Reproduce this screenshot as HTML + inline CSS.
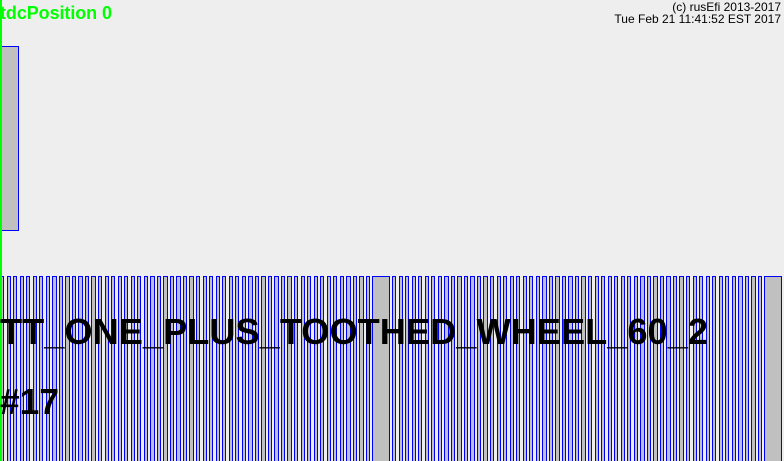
<!DOCTYPE html>
<html><head><meta charset="utf-8"><style>
html,body{margin:0;padding:0;background:#eeeeee;}
svg{display:block;}
text{font-family:"Liberation Sans",sans-serif;}
</style></head><body>
<svg id="chart" width="784" height="461" viewBox="0 0 784 461">
<rect width="784" height="461" fill="#eeeeee"/>
<g id="topSignal"></g>
<g id="teeth"></g>
<line x1="1" y1="0" x2="1" y2="461" stroke="#00ff00" stroke-width="2"/>
<text x="0" y="19" font-size="18" font-weight="bold" fill="#00ff00" textLength="112">tdcPosition 0</text>
<text x="781" y="11" font-size="12" text-anchor="end" fill="#000">(c) rusEfi 2013-2017</text>
<text x="781" y="23" font-size="12" text-anchor="end" fill="#000">Tue Feb 21 11:41:52 EST 2017</text>
<text x="0" y="344" font-size="36" font-weight="bold" fill="#000" textLength="708" lengthAdjust="spacingAndGlyphs">TT_ONE_PLUS_TOOTHED_WHEEL_60_2</text>
<text x="0" y="414" font-size="36" font-weight="bold" fill="#000" textLength="59" lengthAdjust="spacingAndGlyphs">#17</text>
</svg>
<script>
// data: wheel definition
const totalTeeth = [60];
const missingTeeth = [2];
const revolutions = [2];
const tdcHighAngles = [0, 17.5];
const cycleDegrees = [720];

const W = 784;
const xScale = d => d / cycleDegrees[0] * W;
const NS = "http://www.w3.org/2000/svg";

function box(g, x0, x1, y0, y1, name) {
  const r = document.createElementNS(NS, "rect");
  r.setAttribute("x", Math.round(x0) + 0.5);
  r.setAttribute("y", y0 + 0.5);
  r.setAttribute("width", Math.max(1, Math.round(x1) - Math.round(x0) - 1));
  r.setAttribute("height", y1 - y0);
  r.setAttribute("fill", "#c0c0c0");
  r.setAttribute("stroke", "#0000ff");
  r.setAttribute("stroke-width", "1");
  r.setAttribute("shape-rendering", "crispEdges");
  
  
  g.appendChild(r);
}

const topG = document.getElementById("topSignal");
box(topG, xScale(tdcHighAngles[0]), xScale(tdcHighAngles[1]), 46, 230, "tdc-pulse");

const teethG = document.getElementById("teeth");
const revDeg = cycleDegrees[0] / revolutions[0];
const toothDeg = revDeg / totalTeeth[0];
const present = totalTeeth[0] - missingTeeth[0];
for (let r = 0; r < revolutions[0]; r++) {
  for (let k = 0; k < present; k++) {
    const a0 = r * revDeg + k * toothDeg;
    const a1 = k === present - 1 ? a0 + toothDeg * (missingTeeth[0] + 0.5) : a0 + toothDeg / 2;
    box(teethG, xScale(a0), xScale(a1) + 1, 276, 470, k === present - 1 ? "long-tooth" : "tooth");
  }
}
</script>
</body></html>
